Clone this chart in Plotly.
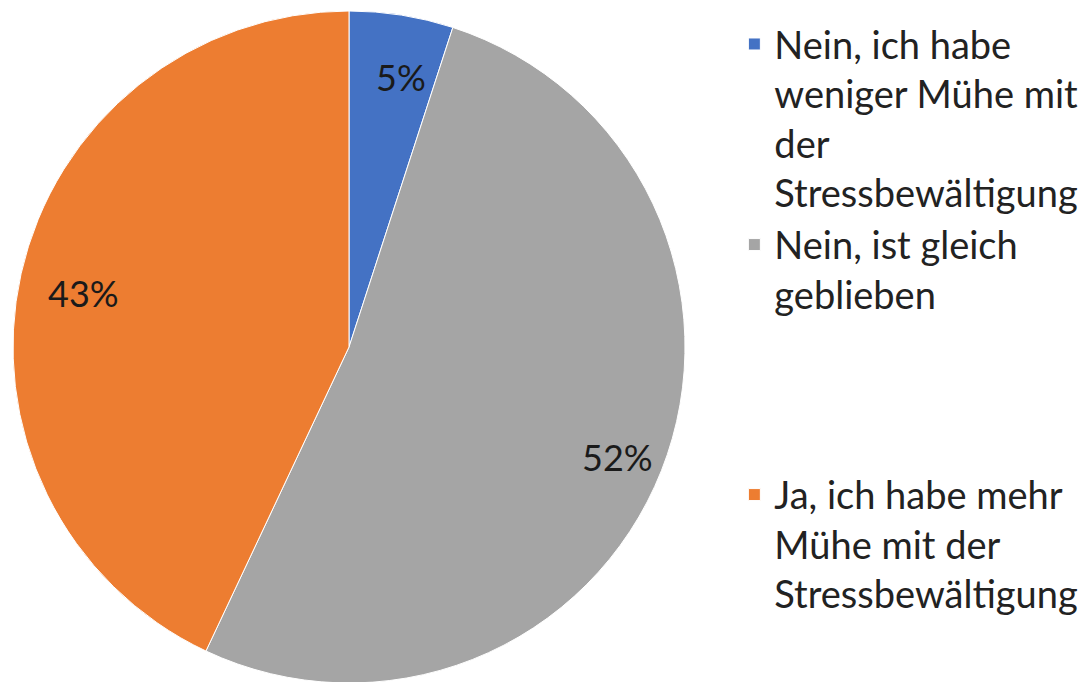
import plotly.graph_objects as go
import math

labels = [
    "Nein, ich habe<br>weniger Mühe mit<br>der<br>Stressbewältigung",
    "Nein, ist gleich<br>geblieben<br> <br> <br> ",
    "Ja, ich habe mehr<br>Mühe mit der<br>Stressbewältigung",
]
values = [5, 52, 43]
colors = ["#4472C4", "#A5A5A5", "#ED7D31"]

W, H = 1089, 682
FONT = "Lato"

fig = go.Figure(go.Pie(
    labels=labels,
    values=values,
    sort=False,
    direction="clockwise",
    rotation=0,
    marker=dict(colors=colors, line=dict(color="white", width=1)),
    textinfo="none",
    hoverinfo="label+percent",
    domain=dict(x=[4 / W, 678 / W], y=[7 / H, 1 - 3 / H]),
))

# percentage labels placed along each slice's mid-angle
cx, cy, r = 349, 346, 336
total = sum(values)
cum = 0
for v in values:
    mid = (cum + v / 2) / total * 2 * math.pi
    cum += v
    px = cx + 0.835 * r * math.sin(mid)
    py = cy - 0.835 * r * math.cos(mid)
    fig.add_annotation(
        x=px / W, y=1 - py / H, xref="paper", yref="paper",
        xanchor="center", yanchor="middle",
        text=f"{round(v / total * 100)}%", showarrow=False,
        font=dict(family=FONT, size=36, color="#1a1a1a"),
    )

fig.update_layout(
    width=W, height=H,
    margin=dict(l=0, r=0, t=0, b=0),
    paper_bgcolor="white",
    plot_bgcolor="white",
    font=dict(family=FONT, color="#222222"),
    legend=dict(
        x=0.667, y=0.993, xanchor="left", yanchor="top",
        valign="top",
        font=dict(family=FONT, size=38, color="#222222"),
        itemwidth=30,
        tracegroupgap=0,
    ),
)

fig.write_html("out.html")
